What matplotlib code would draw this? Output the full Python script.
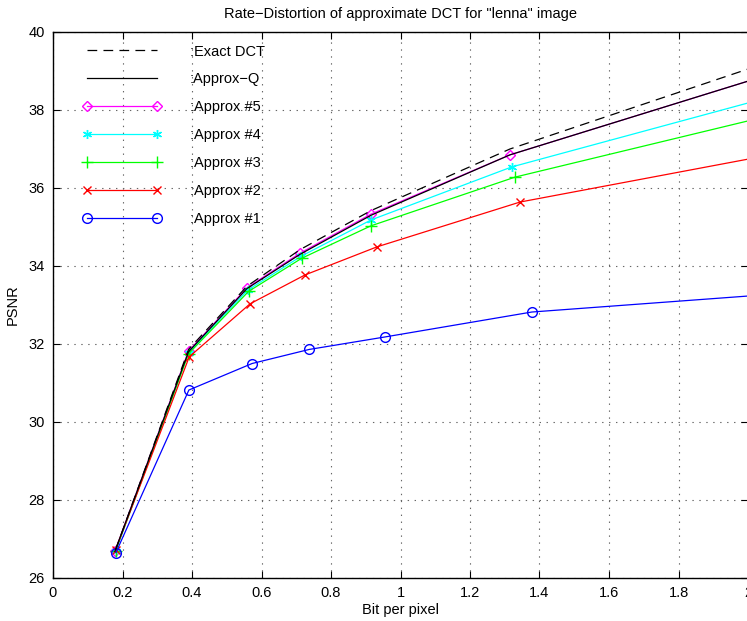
import matplotlib
matplotlib.use('Agg')
import matplotlib.pyplot as plt

plt.rcParams['font.family'] = ['Liberation Sans', 'DejaVu Sans']
plt.rcParams['lines.scale_dashes'] = False

# data (bit per pixel, PSNR)
x_exact = [0.18, 0.39, 0.558, 0.711, 0.915, 1.315, 2.0]
psnr_exact = [26.72, 31.86, 33.48, 34.42, 35.42, 37.0, 39.05]

x_q = [0.178, 0.39, 0.558, 0.711, 0.915, 1.315, 2.0]
psnr_q = [26.68, 31.8, 33.42, 34.3, 35.3, 36.85, 38.74]

x_5 = [0.178, 0.39, 0.558, 0.711, 0.915, 1.315, 2.0]
psnr_5 = [26.68, 31.82, 33.44, 34.33, 35.33, 36.85, 38.74]

x_4 = [0.18, 0.39, 0.56, 0.714, 0.915, 1.32, 2.0]
psnr_4 = [26.68, 31.78, 33.38, 34.25, 35.18, 36.54, 38.18]

x_3 = [0.18, 0.39, 0.563, 0.716, 0.915, 1.33, 2.0]
psnr_3 = [26.7, 31.75, 33.35, 34.2, 35.03, 36.28, 37.72]

x_2 = [0.18, 0.392, 0.567, 0.725, 0.932, 1.344, 2.0]
psnr_2 = [26.72, 31.67, 33.03, 33.77, 34.49, 35.64, 36.74]

x_1 = [0.181, 0.391, 0.573, 0.737, 0.955, 1.378, 2.0]
psnr_1 = [26.65, 30.82, 31.5, 31.86, 32.18, 32.82, 33.23]

fig = plt.figure(figsize=(7.47, 6.21), dpi=100)
ax = fig.add_axes([53 / 747, 43 / 621, 695 / 747, 546 / 621])

lw = 0.9
mk = list(range(6))  # skip marker on the clipped last point

ax.plot(x_exact, psnr_exact, color='black', lw=lw, dashes=(7, 4.5), label=':Exact DCT', zorder=3)
ax.plot(x_5, psnr_5, color='#ff00ff', lw=lw, marker='D', ms=5.5, mfc='none', markevery=mk, label=':Approx #5', zorder=2)
ax.plot(x_q, psnr_q, color='black', lw=lw, label=':Approx\u2212Q', zorder=2.5)
ax.plot(x_4, psnr_4, color='#00ffff', lw=lw, marker=(6, 2, 0), ms=6.5, markevery=mk, label=':Approx #4', zorder=2)
ax.plot(x_3, psnr_3, color='#00ff00', lw=lw, marker='+', ms=8, markevery=mk, label=':Approx #3', zorder=2)
ax.plot(x_2, psnr_2, color='#ff0000', lw=lw, marker='x', ms=5.5, markevery=mk, label=':Approx #2', zorder=2)
ax.plot(x_1, psnr_1, color='#0000ff', lw=lw, marker='o', ms=7, mfc='none', markevery=mk, label=':Approx #1', zorder=2)

ax.set_xlim(0, 2)
ax.set_ylim(26, 40)
ax.set_xticks([0, 0.2, 0.4, 0.6, 0.8, 1, 1.2, 1.4, 1.6, 1.8, 2])
ax.set_xticklabels(['0', '0.2', '0.4', '0.6', '0.8', '1', '1.2', '1.4', '1.6', '1.8', '2'])
ax.set_yticks(range(26, 41, 2))
ax.tick_params(direction='in', length=5, labelsize=10.5, top=True, right=True, pad=6)
ax.grid(True, linestyle=(0, (1, 4)), color='#666666', lw=0.8)
for s in ax.spines.values():
    s.set_linewidth(1.0)

ax.set_xlabel('Bit per pixel', fontsize=10.5, labelpad=2)
ax.set_ylabel('PSNR', fontsize=10.5, labelpad=6)
ax.set_title('Rate\u2212Distortion of approximate DCT for "lenna" image', fontsize=10.5, pad=10)

h, l = ax.get_legend_handles_labels()
order = [':Exact DCT', ':Approx\u2212Q', ':Approx #5', ':Approx #4', ':Approx #3', ':Approx #2', ':Approx #1']
hh = [h[l.index(o)] for o in order]
leg = ax.legend(hh, order, loc='upper left', bbox_to_anchor=(0.043, 0.977), frameon=False,
                numpoints=2, handlelength=5.4, handletextpad=1.95, labelspacing=0.95,
                borderpad=0, borderaxespad=0, fontsize=10.5)

fig.savefig('out.png', dpi=100)
